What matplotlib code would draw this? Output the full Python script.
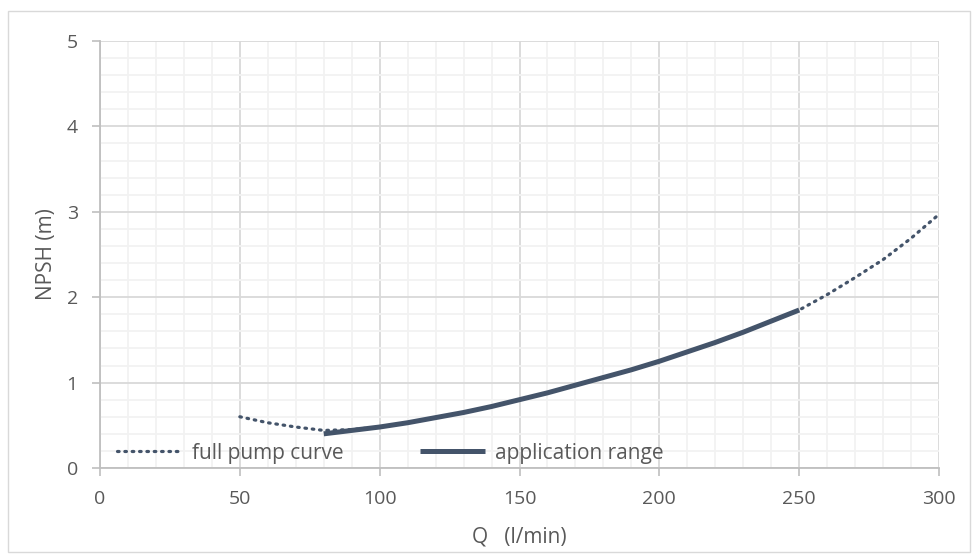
import matplotlib.pyplot as plt
from matplotlib.patches import Rectangle
from matplotlib.ticker import MultipleLocator

plt.rcParams['font.family'] = ['Open Sans', 'DejaVu Sans']

# NPSH curve of the pump, Q in l/min, NPSH in m
q_full = [50, 60, 70, 80, 90, 100, 110, 120, 130, 140, 150, 160, 170, 180, 190,
          200, 210, 220, 230, 240, 250, 260, 270, 280, 290, 300]
npsh_full = [0.60, 0.53, 0.48, 0.44, 0.45, 0.48, 0.53, 0.59, 0.65, 0.72, 0.80, 0.88,
             0.97, 1.06, 1.15, 1.25, 1.36, 1.47, 1.59, 1.72, 1.85, 2.03, 2.23, 2.44,
             2.69, 2.97]

q_app = [80, 90, 100, 110, 120, 130, 140, 150, 160, 170, 180, 190, 200, 210, 220,
         230, 240, 250]
npsh_app = [0.40, 0.44, 0.48, 0.53, 0.59, 0.65, 0.72, 0.80, 0.88, 0.97, 1.06, 1.15,
            1.25, 1.36, 1.47, 1.59, 1.72, 1.85]

line_col = '#44546A'
text_col = '#595959'

fig = plt.figure(figsize=(9.73, 5.57), dpi=100)
ax = fig.add_axes([100/973, 89/557, 839/973, 427/557])

# border round the whole chart
fig.patches.append(Rectangle((8/973, 5/557), 962/973, 541/557, transform=fig.transFigure,
                             fill=False, edgecolor='#d9d9d9', linewidth=1))

ax.plot(q_full, npsh_full, color=line_col, linewidth=2.3, linestyle=(0, (0.5, 1.8)),
        dash_capstyle='round', label='full pump curve', zorder=3)
ax.plot(q_app, npsh_app, color=line_col, linewidth=3.6, solid_capstyle='butt',
        label='application range', zorder=4)

ax.set_xlim(0, 300)
ax.set_ylim(0, 5)
ax.xaxis.set_major_locator(MultipleLocator(50))
ax.xaxis.set_minor_locator(MultipleLocator(10))
ax.yaxis.set_major_locator(MultipleLocator(1))
ax.yaxis.set_minor_locator(MultipleLocator(0.2))

ax.grid(which='major', color='#d9d9d9', linewidth=1.3)
ax.grid(which='minor', color='#f2f2f2', linewidth=1.3)
ax.set_axisbelow(True)

for s in ['top', 'right']:
    ax.spines[s].set_visible(False)
for s in ['left', 'bottom']:
    ax.spines[s].set_color('#bfbfbf')
    ax.spines[s].set_linewidth(1.3)

ax.tick_params(which='major', length=6, width=1.2, color='#bfbfbf', labelcolor=text_col,
               labelsize=14, pad=10)
ax.tick_params(which='minor', length=0)

ax.set_xlabel('Q   (l/min)', fontsize=15, color=text_col, labelpad=13)
ax.set_ylabel('NPSH (m)', fontsize=15, color=text_col, labelpad=7)

leg = ax.legend(loc='center left', bbox_to_anchor=(0.02, 0.035), ncol=2, frameon=False,
                fontsize=15, handlelength=3.1, columnspacing=3.7, handletextpad=0.5,
                borderpad=0, borderaxespad=0, labelcolor=text_col)

fig.savefig('out.png', dpi=100, facecolor='white')
